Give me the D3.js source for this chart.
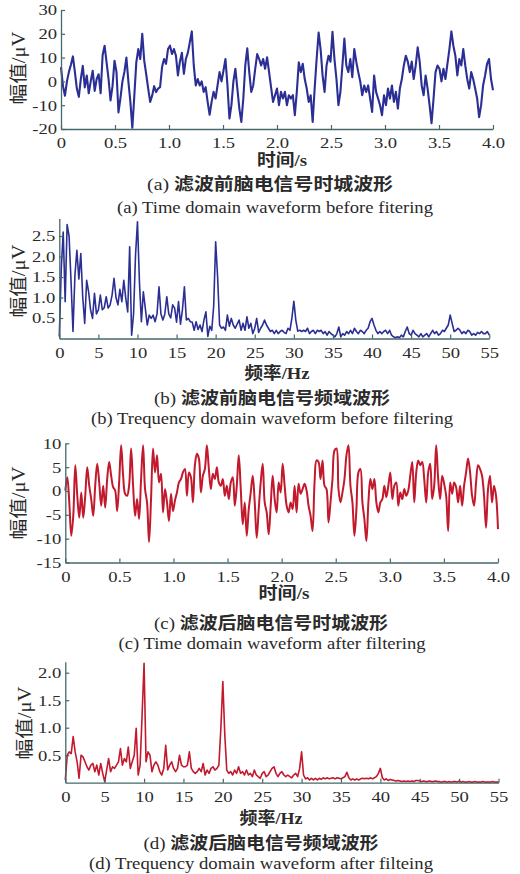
<!DOCTYPE html>
<html>
<head>
<meta charset="utf-8">
<script src="https://cdn.jsdelivr.net/npm/d3@7"></script>
<style>
  body { margin: 0; background: #fff; }
  svg { display: block; }
</style>
</head>
<body>
<div id="chart-area"></div>
<script>
// EEG before / after filtering, time and frequency domain

// (a) raw time-domain waveform, µV, evenly sampled over 0-4 s
const rawWave = [6, -2, -6, 0, 4, 7, 10.5, 4, -3, -6.5, 1, 6.5, -2.5, 2.5, -5, 0, 4.5, -4, 1, 3,
  -5, 11, 15, 8, 1, -8, -2, 8.7, 4, -13, -7, 0, 4, 10, 0, -8.5, -19.5, -6, 8, 13.6,
  9.4, 20, 8.7, 3, -3, -8.6, -6, -2, -4.5, -3, -2.4, 6, 9.4, 7.4, 13.6, 15, 11.5, 13.6, 10.8, 2.5,
  8.3, 12, 3.2, 9.4, 12, 16.4, 21, 6.7, -1.7, 1, -1.7, 0, -4.4, -2.4, -8.6, -14, -8.6, -4.4, -7.2, -1.7,
  3.9, 0, 4.6, 9.4, -1.7, -15.6, -10, 0, 5.3, -3, -11.4, -17, -7.2, 6.7, 13.9, 3.9, -4.4, -1.7, 5.3, 11.5,
  9.4, 6.7, 9.4, 5.3, 10.1, 3.9, -2.4, -8.6, -5.8, -3, -10, -4.4, -7.2, -4.4, -10, -5.8, -7.2, -5.8, -14.2, -4.4,
  8, 3.9, 7.4, 1, -3, -8.6, -5.8, -17, -3, 9.4, 20.5, 13.6, 2.5, -4.4, 6.7, 10.8, 8.3, 20.8, 9.4, 1,
  -10, -4.4, 6.7, 18, 6.7, 3.9, 9.4, 1.8, 13.6, 8.3, 3.9, 0, -5.8, -1.7, -4.4, -1.7, -7.2, -12.8, 2.5, -4.4,
  -7.2, -10, -14.2, -5.8, -10, -3, -7.2, -1.7, -8.6, -4.4, -11.4, -3, 1, 6.7, 10.8, 8.3, 3.9, 8.3, 1, 6.7,
  14.3, 8.3, -1.7, -5.8, 2.5, -3, -10, -17.6, -7.2, 3.9, 6.7, 5.3, 0, 5.3, 1, 7.4, 13.6, 21, 15, 10.8,
  2.5, 9.4, 6.7, 13.6, 6.7, 1, -3, 3.9, 1, -3, -7.2, -15, -10, -1.7, 2.5, 7.4, 9.4, 1, -3.7];

// (b) raw amplitude spectrum, µV, 0.25 Hz bins from 0 to 55 Hz
const rawSpec = [0.05, 1.7, 2.6, 0.9, 2.78, 2.5, 1.4, 0.17, 1.55, 2.15,
  1.45, 2.07, 1.0, 0.37, 1.42, 1.14, 0.7, 0.49, 1.1, 0.6,
  0.7, 1.06, 0.7, 0.75, 1.02, 0.74, 0.82, 1.06, 1.47, 1.0,
  0.82, 1.2, 0.9, 1.42, 0.98, 0.65, 2.24, 0.08, 0.6, 2.04,
  2.85, 1.38, 0.41, 1.14, 0.74, 0.33, 0.57, 0.49, 0.57, 0.41,
  0.6, 1.26, 0.6, 0.45, 0.6, 1.02, 0.6, 0.5, 0.82, 0.74,
  0.4, 0.9, 0.35, 0.7, 1.26, 0.45, 0.49, 0.41, 0.4, 0.2,
  0.41, 0.22, 0.33, 0.17, 0.45, 0.65, 0.05, 0.3, 0.2, 0.8,
  2.36, 1.5, 0.33, 0.25, 0.28, 0.2, 0.57, 0.3, 0.49, 0.33,
  0.25, 0.35, 0.45, 0.2, 0.37, 0.2, 0.53, 0.25, 0.37, 0.12,
  0.25, 0.49, 0.15, 0.25, 0.33, 0.45, 0.33, 0.25, 0.17, 0.2,
  0.12, 0.2, 0.12, 0.17, 0.2, 0.15, 0.12, 0.25, 0.2, 0.5,
  0.91, 0.45, 0.18, 0.2, 0.17, 0.2, 0.17, 0.25, 0.12, 0.17,
  0.2, 0.12, 0.2, 0.17, 0.2, 0.12, 0.17, 0.08, 0.17, 0.12,
  0.08, 0.04, 0.12, 0.28, 0.04, 0.12, 0.08, 0.17, 0.12, 0.2,
  0.12, 0.25, 0.17, 0.12, 0.2, 0.17, 0.12, 0.2, 0.25, 0.41,
  0.49, 0.33, 0.2, 0.12, 0.17, 0.12, 0.17, 0.2, 0.12, 0.2,
  0.08, 0.04, 0.02, 0.04, 0.02, 0.08, 0.04, 0.17, 0.28, 0.12,
  0.08, 0.2, 0.12, 0.08, 0.04, 0.12, 0.04, 0.08, 0.12, 0.04,
  0.12, 0.2, 0.12, 0.17, 0.08, 0.12, 0.2, 0.17, 0.25, 0.33,
  0.57, 0.37, 0.17, 0.2, 0.25, 0.2, 0.12, 0.17, 0.12, 0.2,
  0.17, 0.08, 0.12, 0.08, 0.15, 0.12, 0.17, 0.12, 0.12, 0.17,
  0.08];

// (c) filtered time-domain waveform, µV, evenly sampled over 0-4 s
const filtWave = [0.1, 2.9, -2.4, -9.4, -5.2, 5.4, -1, -5.6, -0.3, -5.6,
  -1, 5, 1.1, -1.7, -5.2, 1.1, 5.7, 1.8, -3.1, 1.1,
  -3.5, 2.5, 6.1, 3.2, 0.8, 0.1, -4.2, 1.8, 9.6, 3.2,
  -0.6, -1, 1.1, 8.9, 1.1, -5.2, -1.7, -5.9, 2.5, 9.6,
  0.4, -2.4, -10.7, -1.7, 8.9, 3.9, 7.5, 1.8, 3.6, -4.5,
  0.4, -2.4, -6.3, -0.6, -4.2, -2, -0.3, 1.8, 2.5, 3.9,
  4.6, -1, 3.9, 2.9, -2.4, 5.4, 7.8, 6.8, -0.3, 3.2,
  4.6, 9.6, 4.6, 0.4, 3.6, 2.5, 5, 1.8, 1.1, 2.5,
  -1, 1.1, -1.7, 1.8, 2.9, -3.1, 1.1, 7.5, 0.4, -7,
  -2.4, -9.4, -3.8, -0.3, 3.2, -2.4, -9.8, -3.8, 1.8, 5.7,
  -2.4, -4.5, -9.1, -3.1, 3.2, -1.7, -4.5, 1.8, -0.3, 5.7,
  1.1, -3.1, -4.5, -2.4, -3.8, 1.1, -4.5, 1.5, -0.6, 0.4,
  1.5, 0.1, -3.1, -5.2, -8.4, 1.8, 6.4, 6.1, 2.5, 6.4,
  1.1, 0.4, -6.6, -2.4, 2.5, 8.5, 8.9, 0.4, -2.4, -0.3,
  2.5, 7.5, 9.6, 1.1, -2.4, -9.4, -3.8, 3.9, 4.6, -2.4,
  -5.9, -10.5, -2.4, 2.5, 0.4, 2.5, -2.4, -4.5, -2.4, -1.7,
  1.1, -1.3, 1.1, 3.9, -1.7, 1.1, 1.8, -3.1, -0.3, -1.7,
  0.4, -1, 0.1, 3.2, 6.1, -2.4, 3.9, 6.4, 5.4, 6.1,
  2.5, -2.4, 3.9, 5.7, -1.7, 1.1, 9.6, 2.5, -1.7, 3.2,
  1.5, -1, -8.4, 1.8, -0.6, 1.8, 0.8, -2.4, 1.1, -3.1,
  1.1, 3.9, 6.8, 3.9, -1, -3.1, 1.8, 5.4, 4.6, 3.2,
  -1, -7.7, 0.4, 3.2, -2.4, 1.1, -1, -8];

// (d) filtered amplitude spectrum, µV, 0.25 Hz bins from 0 to 55 Hz
const filtSpec = [0.05, 0.5, 0.56, 0.53, 0.84, 0.56, 0.38, 0.08, 0.5, 0.47,
  0.38, 0.29, 0.23, 0.32, 0.35, 0.2, 0.32, 0.14, 0.35, 0.17,
  0.02, 0.23, 0.44, 0.2, 0.29, 0.26, 0.32, 0.38, 0.62, 0.32,
  0.44, 0.38, 0.65, 0.26, 0.38, 0.5, 0.99, 0.14, 0.32, 1.23,
  2.17, 0.38, 0.56, 0.5, 0.2, 0.32, 0.38, 0.32, 0.2, 0.14,
  0.26, 0.68, 0.23, 0.32, 0.38, 0.26, 0.2, 0.26, 0.5, 0.32,
  0.29, 0.29, 0.32, 0.56, 0.26, 0.2, 0.17, 0.2, 0.26, 0.2,
  0.35, 0.14, 0.23, 0.17, 0.26, 0.29, 0.23, 0.26, 0.32, 0.99,
  1.84, 0.87, 0.23, 0.17, 0.2, 0.14, 0.23, 0.17, 0.29, 0.17,
  0.2, 0.14, 0.23, 0.14, 0.17, 0.11, 0.23, 0.14, 0.11, 0.08,
  0.17, 0.2, 0.11, 0.14, 0.2, 0.26, 0.29, 0.17, 0.11, 0.17,
  0.2, 0.14, 0.11, 0.14, 0.11, 0.09, 0.14, 0.17, 0.11, 0.26,
  0.56, 0.14, 0.07, 0.09, 0.05, 0.08, 0.05, 0.08, 0.05, 0.08,
  0.06, 0.09, 0.07, 0.09, 0.07, 0.08, 0.09, 0.07, 0.09, 0.08,
  0.07, 0.09, 0.11, 0.19, 0.09, 0.05, 0.07, 0.05, 0.07, 0.05,
  0.07, 0.08, 0.07, 0.08, 0.07, 0.09, 0.07, 0.09, 0.11, 0.17,
  0.26, 0.09, 0.05, 0.07, 0.04, 0.06, 0.05, 0.04, 0.03, 0.04,
  0.03, 0.02, 0.03, 0.02, 0.03, 0.02, 0.03, 0.02, 0.04, 0.04,
  0.03, 0.02, 0.03, 0.02, 0.02, 0.03, 0.02, 0.02, 0.03, 0.02,
  0.02, 0.01, 0.02, 0.02, 0.01, 0.02, 0.01, 0.02, 0.02, 0.01,
  0.03, 0.01, 0.02, 0.01, 0.01, 0.02, 0.01, 0.01, 0.02, 0.01,
  0.01, 0.01, 0.02, 0.01, 0.01, 0.01, 0.01, 0.02, 0.01, 0.01,
  0.01];

// tick labels
const timeTicks = [0, 0.5, 1.0, 1.5, 2.0, 2.5, 3.0, 3.5, 4.0];
const freqTicks = [0, 5, 10, 15, 20, 25, 30, 35, 40, 45, 50, 55];
const ampTicksA = [-20, -10, 0, 10, 20, 30];
const ampTicksB = [0.5, 1.0, 1.5, 2.0, 2.5];
const ampTicksC = [-15, -10, -5, 0, 5, 10];
const ampTicksD = [0.5, 1.0, 1.5, 2.0];

const DURATION = 4;     // s
const BIN = 0.25;       // Hz

const blue = '#2b2f94';
const red = '#c2192d';
const axisColor = '#456868';
const textColor = '#2a2a2a';
const serif = '"Liberation Serif", "Times New Roman", serif';
const cjk = '"Liberation Serif", "Noto Sans CJK SC", serif';
const STRETCH = 1.2;   // the source figure is widened horizontally

const svg = d3.select('#chart-area')
  .append('svg')
    .attr('width', 520)
    .attr('height', 874);

const timeFmt = d => d === 0 ? '0' : d.toFixed(1);
const intFmt = d => String(d);
const decFmt = d => d.toFixed(1);

// widen text to a given length (or by a factor of its natural length)
const widen = (sel, len) => {
  sel.each(function() {
    const w = len || this.getComputedTextLength() * STRETCH;
    d3.select(this)
      .attr('textLength', w)
      .attr('lengthAdjust', 'spacingAndGlyphs');
  });
};

const panels = [
  { values: rawWave, kind: 'time', color: blue, width: 2.1, curve: d3.curveLinear,
    left: 61, right: 493, top: 10, bottom: 129, yDomain: [-20, 30], yTicks: ampTicksA, yFmt: intFmt,
    xLabel: '时间/s', xLabelX: 282, xLabelY: 166, xLabelW: 50, yLabelX: 19, yLabelY: 68,
    capCn: ['(a) ', '滤波前脑电信号时城波形'], capCnX: 270, capCnY: 190, capCnW: 246,
    capEn: '(a) Time domain waveform before fitering', capEnX: 275, capEnY: 213, capEnW: 316 },
  { values: rawSpec, kind: 'freq', color: blue, width: 1.6, curve: d3.curveLinear,
    left: 59.3, right: 489.3, top: 218.4, bottom: 338.5, yDomain: [0, 2.93], yTicks: ampTicksB, yFmt: decFmt,
    xLabel: '频率/Hz', xLabelX: 277, xLabelY: 379, xLabelW: 65, yLabelX: 19, yLabelY: 281,
    capCn: ['(b) ', '滤波前脑电信号频域波形'], capCnX: 272, capCnY: 404, capCnW: 236,
    capEn: '(b) Trequency domain waveform before filtering', capEnX: 272, capEnY: 424, capEnW: 362 },
  { values: filtWave, kind: 'time', color: red, width: 2, curve: d3.curveCatmullRom,
    left: 65.3, right: 498, top: 443.3, bottom: 562.5, yDomain: [-15, 10], yTicks: ampTicksC, yFmt: intFmt,
    xLabel: '时间/s', xLabelX: 284, xLabelY: 599, xLabelW: 51, yLabelX: 19, yLabelY: 503,
    capCn: ['(c) ', '滤波后脑电信号时城波形'], capCnX: 271, capCnY: 629, capCnW: 234,
    capEn: '(c) Time domain waveform after filtering', capEnX: 272, capEnY: 649, capEnW: 307 },
  { values: filtSpec, kind: 'freq', color: red, width: 1.6, curve: d3.curveLinear,
    left: 65.3, right: 498.5, top: 661.7, bottom: 782.7, yDomain: [0, 2.2], yTicks: ampTicksD, yFmt: decFmt,
    xLabel: '频率/Hz', xLabelX: 271, xLabelY: 824, xLabelW: 63, yLabelX: 25, yLabelY: 723,
    capCn: ['(d) ', '滤波后脑电信号频域波形'], capCnX: 261, capCnY: 849, capCnW: 235,
    capEn: '(d) Trequency domain waveform after filteing', capEnX: 261, capEnY: 869, capEnW: 344 }
];

const drawPanel = (p) => {
  const isTime = p.kind === 'time';
  const n = p.values.length;
  const xOf = i => isTime ? i * DURATION / (n - 1) : i * BIN;

  const x = d3.scaleLinear()
    .domain(isTime ? [0, DURATION] : [0, 55])
    .range([p.left, p.right]);

  const y = d3.scaleLinear()
    .domain(p.yDomain)
    .range([p.bottom, p.top]);

  const g = svg.append('g');

  const line = d3.line()
    .x((d, i) => x(xOf(i)))
    .y(d => y(d))
    .curve(p.curve);

  g.append('path')
    .datum(p.values)
    .attr('d', line)
    .attr('fill', 'none')
    .attr('stroke', p.color)
    .attr('stroke-width', p.width)
    .attr('stroke-linejoin', 'round');

  // axes, ticks pointing inward
  const xAxisCall = d3.axisBottom(x)
    .tickValues(isTime ? timeTicks : freqTicks)
    .tickFormat(isTime ? timeFmt : intFmt)
    .tickSizeInner(-4)
    .tickSizeOuter(0)
    .tickPadding(8);

  const yAxisCall = d3.axisLeft(y)
    .tickValues(p.yTicks)
    .tickFormat(p.yFmt)
    .tickSizeInner(-4)
    .tickSizeOuter(0)
    .tickPadding(4);

  const xg = g.append('g')
    .attr('transform', 'translate(0,' + p.bottom + ')')
    .call(xAxisCall);

  const yg = g.append('g')
    .attr('transform', 'translate(' + p.left + ',0)')
    .call(yAxisCall);

  [xg, yg].forEach(ax => {
    ax.select('.domain').attr('stroke', axisColor).attr('stroke-width', 1.3);
    ax.selectAll('.tick line').attr('stroke', axisColor).attr('stroke-width', 1.2);
    ax.selectAll('.tick text')
      .attr('fill', textColor)
      .style('font-family', serif)
      .style('font-size', '15.5px')
      .call(widen);
  });

  // axis titles
  g.append('text')
    .attr('x', p.xLabelX)
    .attr('y', p.xLabelY)
    .attr('text-anchor', 'middle')
    .attr('fill', textColor)
    .style('font-family', cjk)
    .style('font-size', '16.5px')
    .style('font-weight', 'bold')
    .text(p.xLabel)
    .call(widen, p.xLabelW);

  g.append('text')
    .attr('transform', 'translate(' + p.yLabelX + ',' + p.yLabelY + ') rotate(-90)')
    .attr('text-anchor', 'middle')
    .attr('dy', '0.35em')
    .attr('fill', textColor)
    .style('font-family', cjk)
    .style('font-size', '18px')
    .text('幅值/μV')
    .call(widen, 73);

  // captions
  const cn = g.append('text')
    .attr('x', p.capCnX)
    .attr('y', p.capCnY)
    .attr('text-anchor', 'middle')
    .attr('fill', textColor)
    .style('font-family', cjk)
    .style('font-size', '17px');
  cn.append('tspan').text(p.capCn[0]);
  cn.append('tspan').style('font-weight', 'bold').text(p.capCn[1]);
  widen(cn, p.capCnW);

  g.append('text')
    .attr('x', p.capEnX)
    .attr('y', p.capEnY)
    .attr('text-anchor', 'middle')
    .attr('fill', textColor)
    .style('font-family', serif)
    .style('font-size', '17.5px')
    .text(p.capEn)
    .call(widen, p.capEnW);
};

panels.forEach(drawPanel);
</script>
</body>
</html>
